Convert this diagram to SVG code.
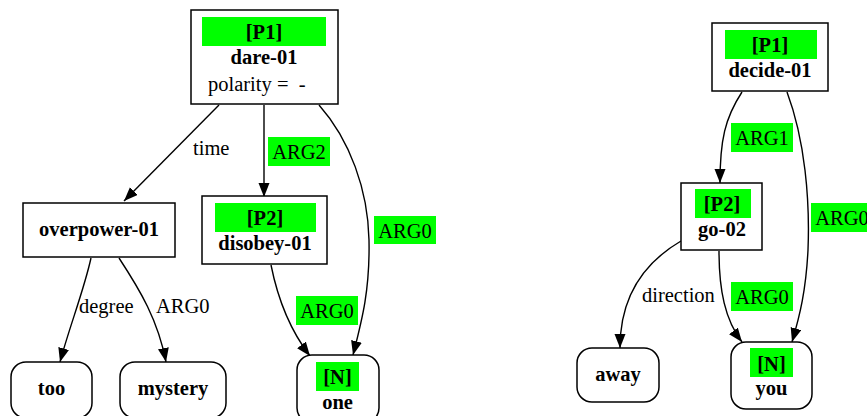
<svg xmlns="http://www.w3.org/2000/svg" width="867" height="416" viewBox="0 0 867 416">
<defs>
<style>
.box{fill:#fff;stroke:#000;stroke-width:1.5}
.hl{fill:#00ff00;stroke:none}
text{font-family:"Liberation Serif","Times New Roman","DejaVu Serif","Noto Serif",Times,serif;font-size:20.5px;fill:#000}
.nt{font-weight:bold;text-anchor:middle}
.rt{text-anchor:middle}
.lt{text-anchor:start}
.edge{fill:none;stroke:#000;stroke-width:1.4;marker-end:url(#arr)}
</style>
<marker id="arr" markerUnits="userSpaceOnUse" markerWidth="16" markerHeight="12" refX="14" refY="5.5" orient="auto">
<path d="M0,0 L14,5.5 L0,11 Z" fill="#000"/>
</marker>
</defs>
<rect width="867" height="416" fill="#fff"/>
<g id="edges">
<path class="edge" d="M219,105 L124,201"/>
<path class="edge" d="M264,105 L264,197"/>
<path class="edge" d="M319,105 C350,140 368,190 369,240 C370,290 362,320 353,355"/>
<path class="edge" d="M271,265 C278,300 290,330 310,356"/>
<path class="edge" d="M91,258 C84,290 70,325 60,362"/>
<path class="edge" d="M119,258 C140,290 158,320 166,362"/>
<path class="edge" d="M742,92 C725,118 720,140 720,183"/>
<path class="edge" d="M787,92 C805,140 810,200 808,250 C806,290 800,315 792,342"/>
<path class="edge" d="M681,241 C640,265 620,300 620,348"/>
<path class="edge" d="M719,251 C719,290 725,320 742,342"/>
<text class="lt" x="193" y="155">time</text>
<rect class="hl" x="268" y="137" width="62" height="29"/>
<text class="rt" x="299" y="159">ARG2</text>
<rect class="hl" x="374" y="216" width="62" height="28"/>
<text class="rt" x="405" y="238">ARG0</text>
<text class="lt" x="79" y="313">degree</text>
<text class="lt" x="156" y="313">ARG0</text>
<rect class="hl" x="296" y="296" width="62" height="29"/>
<text class="rt" x="327" y="318">ARG0</text>
<rect class="hl" x="731" y="123" width="62" height="29"/>
<text class="rt" x="762" y="145">ARG1</text>
<rect class="hl" x="811" y="203" width="62" height="29"/>
<text class="rt" x="842" y="225">ARG0</text>
<text class="lt" x="642" y="302">direction</text>
<rect class="hl" x="731" y="282" width="62" height="29"/>
<text class="rt" x="762" y="304">ARG0</text>
</g>
<g id="dare-01">
<rect class="box" x="191" y="10" width="147" height="94"/>
<rect class="hl" x="202" y="17" width="124" height="29"/>
<text class="nt" x="264" y="39">[P1]</text>
<text class="nt" x="264" y="64">dare-01</text>
<text class="lt" x="208" y="91" style="white-space:pre">polarity =  -</text>
</g>
<g id="overpower-01">
<rect class="box" x="23" y="203" width="152" height="54"/>
<text class="nt" x="99" y="236">overpower-01</text>
</g>
<g id="disobey-01">
<rect class="box" x="202" y="196" width="125" height="68"/>
<rect class="hl" x="215" y="203" width="101" height="29"/>
<text class="nt" x="265" y="225">[P2]</text>
<text class="nt" x="265" y="250">disobey-01</text>
</g>
<g id="too">
<rect class="box" x="11" y="362" width="81" height="56" rx="15"/>
<text class="nt" x="51.5" y="395">too</text>
</g>
<g id="mystery">
<rect class="box" x="120" y="362" width="106" height="56" rx="15"/>
<text class="nt" x="173" y="395">mystery</text>
</g>
<g id="one">
<rect class="box" x="297" y="355" width="82" height="68" rx="15"/>
<rect class="hl" x="316" y="362" width="43" height="29"/>
<text class="nt" x="337.5" y="384">[N]</text>
<text class="nt" x="337.5" y="409">one</text>
</g>
<g id="decide-01">
<rect class="box" x="712" y="23" width="116" height="68"/>
<rect class="hl" x="725" y="30" width="92" height="29"/>
<text class="nt" x="770" y="52">[P1]</text>
<text class="nt" x="770" y="77">decide-01</text>
</g>
<g id="go-02">
<rect class="box" x="681" y="183" width="81" height="67"/>
<rect class="hl" x="695" y="189" width="56" height="29"/>
<text class="nt" x="722" y="211">[P2]</text>
<text class="nt" x="722" y="236">go-02</text>
</g>
<g id="away">
<rect class="box" x="577" y="348" width="82" height="54" rx="15"/>
<text class="nt" x="618" y="381">away</text>
</g>
<g id="you">
<rect class="box" x="731" y="342" width="81" height="67" rx="15"/>
<rect class="hl" x="750" y="348" width="43" height="29"/>
<text class="nt" x="771.5" y="371">[N]</text>
<text class="nt" x="771.5" y="395">you</text>
</g>
</svg>
